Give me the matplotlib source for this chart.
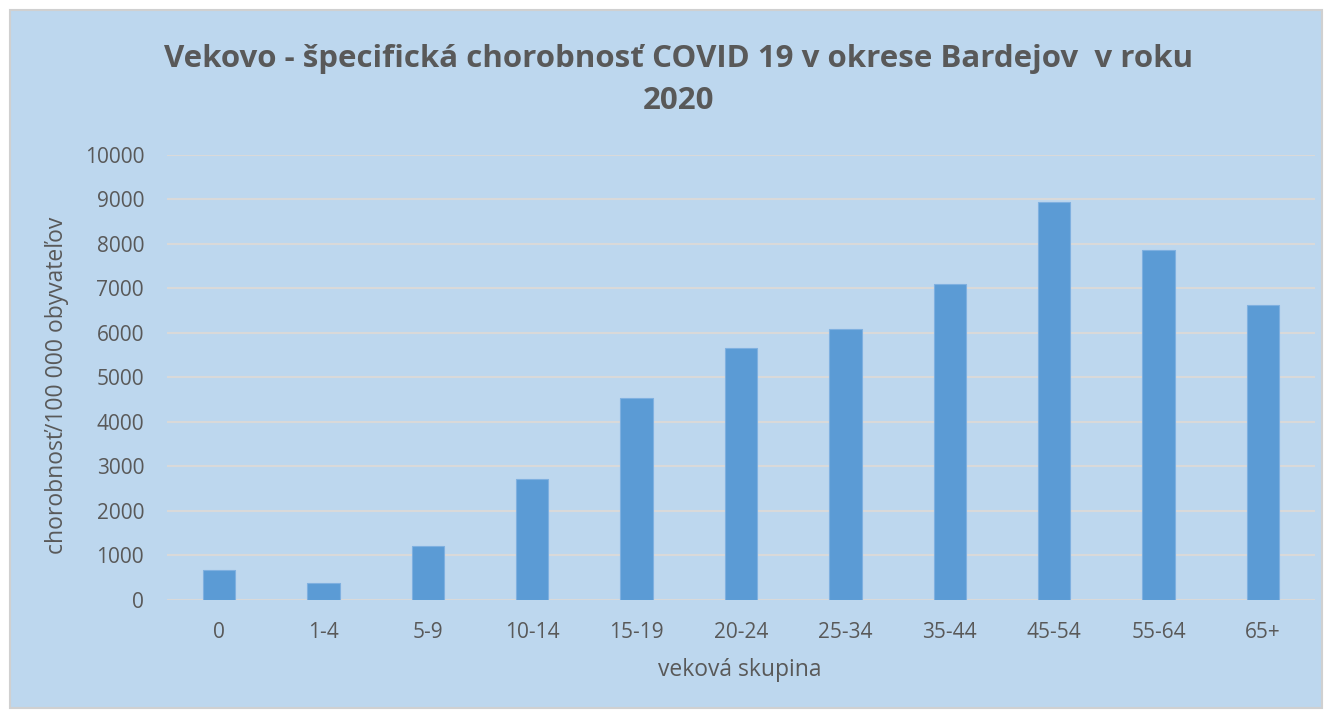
import matplotlib
matplotlib.use("Agg")
import matplotlib.pyplot as plt
from matplotlib.patches import Rectangle

categories = ["0", "1-4", "5-9", "10-14", "15-19", "20-24", "25-34", "35-44", "45-54", "55-64", "65+"]
values = [667, 375, 1205, 2717, 4536, 5660, 6086, 7096, 8938, 7867, 6625]
yticks = [0, 1000, 2000, 3000, 4000, 5000, 6000, 7000, 8000, 9000, 10000]

title = "Vekovo - špecifická chorobnosť COVID 19 v okrese Bardejov  v roku\n2020"
xlabel = "veková skupina"
ylabel = "chorobnosť/100 000 obyvateľov"

plt.rcParams['font.family'] = ['Open Sans', 'DejaVu Sans']
txt = "#595959"
bg = "#BDD7EE"

W, H = 1326, 712
fig = plt.figure(figsize=(W/100, H/100), dpi=100)
fig.patch.set_facecolor("white")
rect = Rectangle((10/W, 4/H), (W-14)/W, (H-14)/H, transform=fig.transFigure,
                 facecolor=bg, edgecolor="#D0D0D0", linewidth=1.5, zorder=-10)
fig.add_artist(rect)

ax = fig.add_axes([167/W, 1-600/H, (1315-167)/W, (600-154.7)/H])
ax.set_facecolor("none")
x = list(range(len(categories)))
ax.bar(x, values, width=0.31, color="#5B9BD5", edgecolor="#7FB0E0", linewidth=0.8, zorder=3)
ax.set_xlim(-0.5, len(categories)-0.5)
ax.set_ylim(0, 10000)
ax.set_yticks(yticks)
ax.set_yticklabels([str(v) for v in yticks])
ax.set_xticks(x)
ax.set_xticklabels(categories)
ax.yaxis.grid(True, color="#D9D9D9", linewidth=1.5, zorder=0)
ax.set_axisbelow(True)
for s in ax.spines.values():
    s.set_visible(False)
ax.tick_params(length=0, colors=txt, labelsize=15)
ax.tick_params(axis='x', pad=16)
ax.tick_params(axis='y', pad=16.5)
ax.set_xlabel(xlabel, fontsize=16.5, color=txt, va='center')
ax.xaxis.set_label_coords((740-167)/1148, (600-670)/445.3)
ax.set_ylabel(ylabel, fontsize=16.5, color=txt, va='center')
ax.yaxis.set_label_coords((57-167)/1148, (600-385)/445.3)

fig.text(679/W, 1-80/H, title, ha="center", va="center", fontsize=22.5, fontweight="bold",
         color=txt, linespacing=1.5)

fig.savefig("out.png", dpi=100, facecolor="white")
